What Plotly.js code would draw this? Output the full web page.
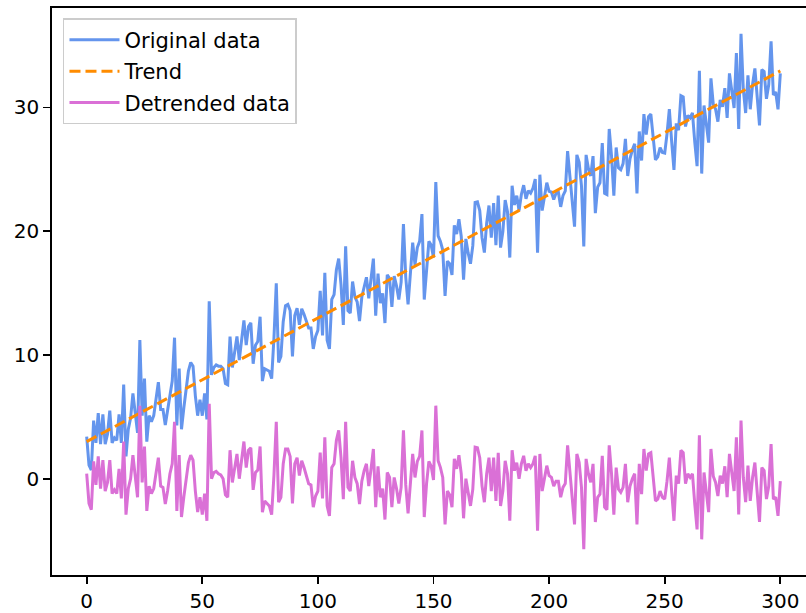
<!DOCTYPE html>
<html>
<head>
<meta charset="utf-8">
<script src="https://cdn.plot.ly/plotly-3.0.1.min.js"></script>
<style>
html, body { margin: 0; padding: 0; overflow: hidden; background: #fff; }
#chart { width: 816px; height: 613px; }
</style>
</head>
<body>
<div id="chart"></div>
<script>
// Detrended values, one per x = 0..300
const detrended = [
  0.4, -2.0, -2.5, 1.4, -0.5, 1.8, -0.8, 1.5, -1.0, -0.3,
  1.5, -1.2, -0.9, -1.2, 0.8, -1.6, 3.0, -2.9, -0.8, 0.0,
  1.9, 0.3, -1.5, 5.9, -0.3, 2.6, -2.6, -0.6, -1.2, -0.8,
  0.5, 1.7, -0.6, -0.7, -2.05, -1.0, 0.4, 1.2, 4.6, -2.6,
  1.9, -3.1, -1.5, 0.1, 1.3, 1.9, 1.5, -1.0, -2.7, -1.5,
  -2.9, -1.2, -3.4, 6.05, 0.0, 0.5, 0.6, 0.4, 0.3, 0.0,
  -1.3, -1.5, 2.3, -0.3, 0.8, 2.0, 0.0, 1.45, 3.0, 0.9,
  2.3, 2.5, -0.9, 0.5, 0.7, 2.6, -2.7, -1.8, -2.0, -2.2,
  -2.9, 0.3, 4.6, -1.9, -1.5, 1.2, 2.4, 2.4, 1.8, -2.0,
  1.2, 1.7, 0.25, 1.45, 0.9, 0.2, -0.4, -0.5, -2.3, -1.4,
  -1.0, 2.1, -1.6, 3.35, -2.2, -3.0, 0.9, 1.2, 3.1, 3.9,
  1.7, -1.65, 4.6, -0.7, -1.0, 1.45, 0.1, -0.4, -2.05, -0.2,
  0.65, 1.2, -0.6, 0.8, 2.4, -2.3, 1.0, -1.5, -0.8, -3.3,
  0.5, 0.1, -2.3, 0.1, -0.8, -2.0, -0.7, 3.9, -0.5, -2.8,
  -0.7, 2.0, 0.1, 1.4, 1.8, 3.9, -3.1, -0.4, 1.4, 1.0,
  -0.1, 5.9, 1.45, 0.9, 0.1, -3.7, -1.0, -1.3, -2.3, 1.6,
  0.8, 1.9, 0.4, -3.2, 0.0, -1.25, -2.2, -0.84, 2.55, 2.5,
  1.7, -0.6, -1.9, 0.4, 1.7, -1.0, 1.7, -1.8, 2.1, -2.2,
  -1.0, 1.45, 0.4, -3.4, 2.3, 0.65, 1.3, 0.0, 1.2, 1.85,
  0.65, 1.2, 0.9, 1.2, 1.85, -4.2, 2.0, -1.0, 0.1, 1.05,
  0.25, 0.1, -0.6, -0.2, -0.2, -1.5, -0.7, -0.4, 2.7, 0.4,
  -1.4, -3.7, 2.0, 1.3, -0.7, -5.7, 1.6, 0.4, -0.3, 1.2,
  -3.5, -1.5, -1.25, 1.85, -2.3, -2.5, 2.7, 0.4, -2.9, 0.9,
  -0.84, -1.1, -0.7, 1.2, -1.9, -0.6, 0.0, 0.4, -3.7, 1.2,
  -1.25, 2.4, 0.65, 2.0, 2.1, 0.1, -1.8, -1.65, -1.0, -1.5,
  -1.65, -0.2, 1.7, -1.0, -3.4, 0.25, -0.4, 2.3, 2.1, -0.4,
  0.4, 0.1, 0.4, -2.05, -4.1, 3.5, -4.9, 0.5, -1.25, -2.7,
  2.4, 0.2, -0.3, -1.4, 0.25, -0.4, 1.0, -1.5, 2.0, 0.5,
  -1.0, 3.35, -2.9, 4.7, 0.1, -1.9, 1.05, -1.8, 0.1, 1.3,
  -1.0, -3.5, 0.9, 0.65, -1.65, -0.6, 2.8, -1.65, -1.5, -3.0,
  -0.2
];
// Trend line end values
const trendStart = 3.0;   // value at x = 0
const trendEnd = 32.95;   // value at x = 300
const xStart = 0, xEnd = 300;
const xTickVals = [0, 50, 100, 150, 200, 250, 300];
const yTickVals = [0, 10, 20, 30];
const seriesNames = ["Original data", "Trend", "Detrended data"];

const n = detrended.length;
const xs = detrended.map((_, i) => xStart + (xEnd - xStart) * i / (n - 1));
const trend = xs.map(x => trendStart + (trendEnd - trendStart) * (x - xStart) / (xEnd - xStart));
const original = detrended.map((d, i) => trend[i] + d);

const allY = original.concat(trend, detrended);
const yMin = Math.min(...allY), yMax = Math.max(...allY);
const yPad = 0.05 * (yMax - yMin);
const xPad = 0.05 * (xEnd - xStart);

const font = { family: "DejaVu Sans", size: 20, color: "#000" };
const legendFont = { family: "DejaVu Sans", size: 21, color: "#000" };

const traces = [
  { x: xs, y: original, type: "scatter", mode: "lines", name: seriesNames[0],
    line: { color: "#6495ED", width: 3 }, legendgroup: "a" },
  { x: xs, y: trend, type: "scatter", mode: "lines", name: seriesNames[1],
    line: { color: "#FF8C00", width: 3, dash: "11px,5px" }, legendgroup: "b" },
  { x: xs, y: detrended, type: "scatter", mode: "lines", name: seriesNames[2],
    line: { color: "#DA70D6", width: 3 }, legendgroup: "c" }
];

const axisCommon = {
  showgrid: false, zeroline: false, showline: true, mirror: true,
  linecolor: "#000", linewidth: 1.7, ticks: "outside", ticklen: 7,
  tickwidth: 1.7, tickcolor: "#000", tickfont: font
};

const layout = {
  width: 816, height: 613,
  margin: { l: 52, r: 1, t: 8, b: 38 },
  paper_bgcolor: "#fff", plot_bgcolor: "#fff",
  font: font,
  showlegend: true,
  legend: {
    x: 0.0144, y: 0.982, xanchor: "left", yanchor: "top",
    bgcolor: "rgba(255,255,255,0.8)", bordercolor: "#cccccc", borderwidth: 1.5,
    font: legendFont, traceorder: "grouped", tracegroupgap: 1, itemwidth: 50
  },
  xaxis: Object.assign({}, axisCommon, {
    range: [xStart - xPad, xEnd + xPad], tickvals: xTickVals
  }),
  yaxis: Object.assign({}, axisCommon, {
    range: [yMin - yPad, yMax + yPad], tickvals: yTickVals
  })
};

Plotly.newPlot("chart", traces, layout, { displayModeBar: false, staticPlot: true });
</script>
</body>
</html>
